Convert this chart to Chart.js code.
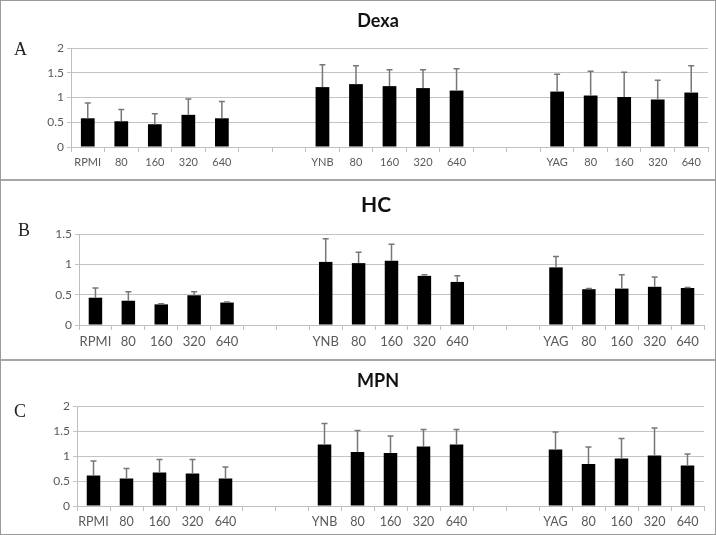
<!DOCTYPE html>
<html lang="en">
<head>
  <meta charset="UTF-8">
  <title>Dexa / HC / MPN</title>
  <script src="https://cdn.jsdelivr.net/npm/chart.js"></script>
  <style>
    body {
      margin: 0;
      background: #fff;
      font-family: 'Lato', sans-serif;
    }
    .frame {
      position: relative;
      width: 716px;
      height: 535px;
      border: 1px solid #9a9a9a;
      box-sizing: border-box;
      overflow: hidden;
    }
    .sep {
      position: absolute;
      left: 0;
      width: 716px;
      height: 2px;
      background: #a6a6a6;
    }
    canvas {
      position: absolute;
      left: 0;
    }
    .title {
      position: absolute;
      width: 200px;
      text-align: center;
      font-weight: bold;
      color: #111;
      line-height: 1;
    }
    .letter {
      position: absolute;
      font-family: 'Liberation Serif', serif;
      font-size: 18px;
      color: #222;
      line-height: 1;
    }
  </style>
</head>
<body>
  <div class="frame">
    <div class="sep" style="top:178px"></div>
    <div class="sep" style="top:358px"></div>

    <canvas id="chartA" width="716" height="176" style="top:1px"></canvas>
    <canvas id="chartB" width="716" height="176" style="top:179px"></canvas>
    <canvas id="chartC" width="716" height="173" style="top:359px"></canvas>

    <div class="title" style="left:277px; top:10px; font-size:18px">Dexa</div>
    <div class="title" style="left:275px; top:192px; font-size:21px">HC</div>
    <div class="title" style="left:277px; top:370px; font-size:18px">MPN</div>

    <div class="letter" style="left:13px; top:39px">A</div>
    <div class="letter" style="left:17px; top:220px">B</div>
    <div class="letter" style="left:13px; top:401px">C</div>
  </div>

  <script>
    const categories = ['RPMI', '80', '160', '320', '640', '', '', 'YNB', '80', '160', '320', '640', '', '', 'YAG', '80', '160', '320', '640'];

    const dexaMeans = [0.58, 0.52, 0.46, 0.65, 0.58, null, null, 1.21, 1.27, 1.23, 1.19, 1.14, null, null, 1.12, 1.04, 1.01, 0.96, 1.10];
    const dexaErr   = [0.31, 0.24, 0.21, 0.32, 0.34, null, null, 0.45, 0.37, 0.33, 0.37, 0.44, null, null, 0.35, 0.49, 0.50, 0.39, 0.54];

    const hcMeans = [0.45, 0.40, 0.34, 0.49, 0.37, null, null, 1.04, 1.02, 1.06, 0.81, 0.71, null, null, 0.95, 0.59, 0.60, 0.63, 0.61];
    const hcErr   = [0.16, 0.15, 0.01, 0.06, 0.01, null, null, 0.38, 0.18, 0.27, 0.02, 0.10, null, null, 0.18, 0.01, 0.23, 0.16, 0.01];

    const mpnMeans = [0.61, 0.55, 0.67, 0.65, 0.55, null, null, 1.23, 1.08, 1.06, 1.19, 1.23, null, null, 1.13, 0.84, 0.95, 1.01, 0.81];
    const mpnErr   = [0.29, 0.20, 0.26, 0.28, 0.23, null, null, 0.42, 0.43, 0.34, 0.34, 0.30, null, null, 0.35, 0.34, 0.40, 0.55, 0.23];

    const yTicksA = { max: 2, step: 0.5 };
    const yTicksB = { max: 1.5, step: 0.5 };
    const yTicksC = { max: 2, step: 0.5 };

    // one-sided (upward) error bars, drawn from the bar scale
    const errorBars = {
      id: 'errorBars',
      afterDatasetsDraw(chart, args, opts) {
        const ctx = chart.ctx;
        const meta = chart.getDatasetMeta(0);
        const y = chart.scales.y;
        const means = chart.data.datasets[0].data;
        ctx.save();
        ctx.strokeStyle = '#777';
        ctx.lineWidth = 1.5;
        meta.data.forEach((bar, i) => {
          if (means[i] == null || opts.values[i] == null) return;
          const top = y.getPixelForValue(means[i] + opts.values[i]);
          ctx.beginPath();
          ctx.moveTo(bar.x, bar.y);
          ctx.lineTo(bar.x, top);
          ctx.moveTo(bar.x - 3, top);
          ctx.lineTo(bar.x + 3, top);
          ctx.stroke();
        });
        ctx.restore();
      }
    };

    function makeChart(id, means, errs, yt, o) {
      return new Chart(document.getElementById(id), {
        type: 'bar',
        data: {
          labels: categories,
          datasets: [{
            data: means,
            backgroundColor: '#000',
            barPercentage: 0.41,
            categoryPercentage: 1
          }]
        },
        plugins: [errorBars],
        options: {
          responsive: false,
          animation: false,
          layout: { padding: { top: o.padTop, right: o.padRight, bottom: 0, left: 0 } },
          plugins: {
            legend: { display: false },
            tooltip: { enabled: false },
            errorBars: { values: errs }
          },
          scales: {
            x: {
              afterFit: s => { s.height = o.xHeight; },
              grid: { drawOnChartArea: false, offset: true, tickLength: 5, color: '#bfbfbf' },
              border: { color: '#bfbfbf' },
              ticks: {
                autoSkip: false,
                maxRotation: 0,
                padding: o.xPad,
                color: '#595959',
                font: { family: 'Lato', size: o.xFont }
              }
            },
            y: {
              min: 0,
              max: yt.max,
              afterFit: s => { s.width = o.left; },
              grid: { color: '#c4c4c4', tickLength: 4 },
              border: { color: '#bfbfbf' },
              ticks: {
                stepSize: yt.step,
                padding: 3,
                color: '#595959',
                font: { family: 'Lato', size: 12 },
                callback: v => String(v)
              }
            }
          }
        }
      });
    }

    makeChart('chartA', dexaMeans, dexaErr, yTicksA, { padTop: 46, padRight: 9, left: 70, xHeight: 31, xPad: 4, xFont: 11 });
    makeChart('chartB', hcMeans, hcErr, yTicksB, { padTop: 54, padRight: 13, left: 78, xHeight: 31, xPad: 4, xFont: 13 });
    makeChart('chartC', mpnMeans, mpnErr, yTicksC, { padTop: 46, padRight: 13, left: 76, xHeight: 27, xPad: 3, xFont: 12.5 });
  </script>
</body>
</html>
